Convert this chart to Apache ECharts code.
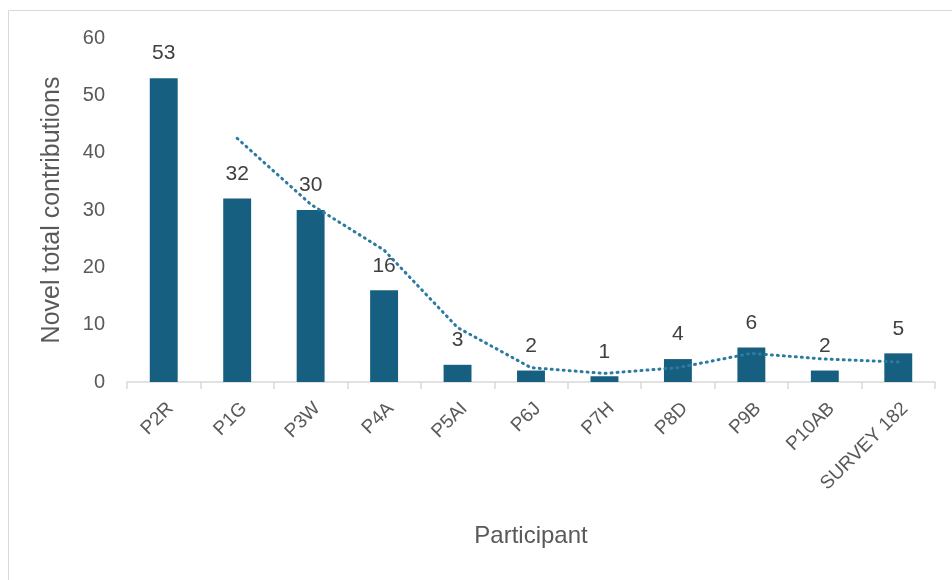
<!DOCTYPE html>
<html>
<head>
<meta charset="utf-8">
<style>
  html, body { margin: 0; padding: 0; background: #ffffff; }
  #chart { width: 952px; height: 580px; }
</style>
<script src="https://cdn.jsdelivr.net/npm/echarts@6/dist/echarts.min.js"></script>
</head>
<body>
<div id="chart"></div>
<script>
// Participants along the horizontal axis
const participants = ['P2R', 'P1G', 'P3W', 'P4A', 'P5AI', 'P6J', 'P7H', 'P8D', 'P9B', 'P10AB', 'SURVEY 182'];
// Novel total contributions per participant
const contributions = [53, 32, 30, 16, 3, 2, 1, 4, 6, 2, 5];
// Two-period moving average trend (first point has no value)
const trend = [null, 42.5, 31, 23, 9.5, 2.5, 1.5, 2.5, 5, 4, 3.5];
// Value axis range
const yMin = 0, yMax = 60, yStep = 10;

const chart = echarts.init(document.getElementById('chart'), null, { renderer: 'canvas' });

const textGrey = '#595959';
const fontFam = '"Liberation Sans", Arial, sans-serif';

chart.setOption({
  animation: false,
  backgroundColor: '#ffffff',
  graphic: [{
    type: 'rect',
    shape: { x: 8.5, y: 10.5, width: 1000, height: 1000 },
    style: { fill: 'none', stroke: '#d9d9d9', lineWidth: 1 },
    silent: true
  }],
  grid: { left: 127, right: 17, top: 38, bottom: 198, containLabel: false },
  xAxis: {
    type: 'category',
    data: participants,
    boundaryGap: true,
    name: 'Participant',
    nameLocation: 'middle',
    nameGap: 142,
    nameTextStyle: { color: textGrey, fontSize: 24, fontFamily: fontFam },
    axisLine: { lineStyle: { color: '#d9d9d9', width: 1.5 } },
    axisTick: { show: true, alignWithLabel: false, length: 7, lineStyle: { color: '#d9d9d9', width: 1.5 } },
    axisLabel: {
      rotate: 45, color: textGrey, fontSize: 19, fontFamily: fontFam,
      margin: 17, interval: 0, verticalAlign: 'top'
    }
  },
  yAxis: {
    type: 'value',
    min: yMin, max: yMax, interval: yStep,
    name: 'Novel total contributions',
    nameLocation: 'middle',
    nameGap: 62,
    nameTextStyle: { color: textGrey, fontSize: 25, fontFamily: fontFam },
    axisLine: { show: false },
    axisTick: { show: false },
    splitLine: { show: false },
    axisLabel: { color: textGrey, fontSize: 20, fontFamily: fontFam, margin: 22 }
  },
  series: [
    {
      name: 'Contributions',
      type: 'bar',
      data: contributions,
      barWidth: '38%',
      itemStyle: { color: '#175f80' },
      label: {
        show: true, position: 'top', distance: 14,
        color: '#404040', fontSize: 21, fontFamily: fontFam
      },
      z: 2
    },
    {
      name: 'Trend',
      type: 'line',
      data: trend,
      showSymbol: false,
      connectNulls: false,
      lineStyle: { color: '#2b7ba0', width: 3, type: [1, 5], cap: 'round' },
      z: 3
    }
  ]
});
</script>
</body>
</html>
